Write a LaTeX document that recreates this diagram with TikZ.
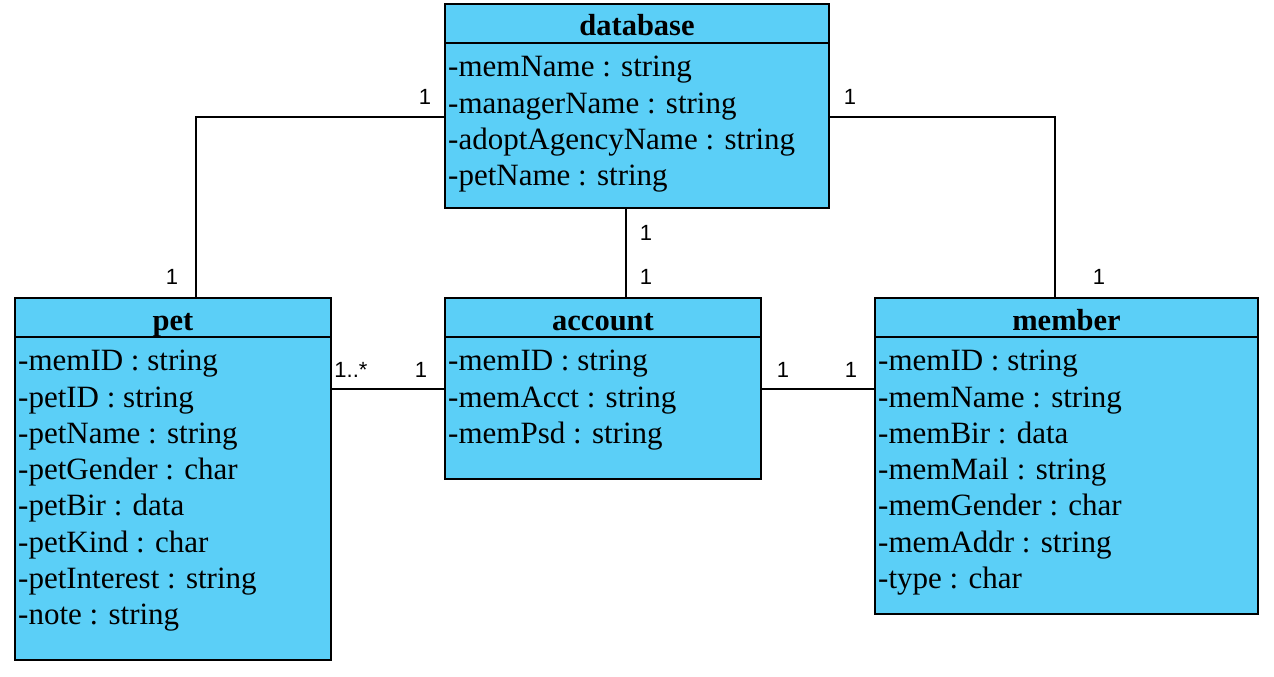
\documentclass[tikz,border=0pt]{standalone}
\usepackage{fontspec}
\setmainfont{Liberation Serif}
\newfontfamily\multfont{Liberation Sans}
\usetikzlibrary{positioning}
\definecolor{classcyan}{RGB}{91,207,247}
\tikzset{
  classbox/.style={draw, line width=2pt, fill=classcyan, inner sep=0pt},
  classhead/.style={draw, line width=2pt, fill=classcyan, inner sep=0pt,
    text height=28pt, text depth=3pt,
    font=\fontsize{30.5}{36}\selectfont\bfseries},
  attrs/.style={align=left, inner sep=0pt, anchor=north west,
    font=\fontsize{31}{36.3}\selectfont},
  mult/.style={font=\multfont\fontsize{22}{24}\selectfont, inner sep=0pt},
  assoc/.style={line width=2pt}
}
% one class: name, x, y, width, height, title
\newcommand\umlclass[6]{
  \node[classbox, anchor=north west, minimum width=#4pt, minimum height=#5pt]
    (#1) at (#2,#3) {};
  \node[classhead, anchor=north, minimum width=#4pt, minimum height=39pt]
    (#1-head) at (#1.north) {#6};
}
\begin{document}
\begin{tikzpicture}[x=1pt, y=-1pt]
\useasboundingbox (0,0) rectangle (1274,677);
\umlclass{database}{444}{3}{384}{204}{database}
\umlclass{pet}{14}{297}{316}{362}{pet}
\umlclass{account}{444}{297}{316}{181}{account}
\umlclass{member}{874}{297}{383}{316}{member}

\node[attrs] (database-attrs) at ([xshift=4pt,yshift=-12pt]database-head.south west)
  {-memName : string\\-managerName : string\\-adoptAgencyName : string\\-petName : string};
\node[attrs] (pet-attrs) at ([xshift=4pt,yshift=-12pt]pet-head.south west)
  {-memID : string\\-petID : string\\-petName : string\\-petGender : char\\
   -petBir : data\\-petKind : char\\-petInterest : string\\-note : string};
\node[attrs] (account-attrs) at ([xshift=4pt,yshift=-12pt]account-head.south west)
  {-memID : string\\-memAcct : string\\-memPsd : string};
\node[attrs] (member-attrs) at ([xshift=4pt,yshift=-12pt]member-head.south west)
  {-memID : string\\-memName : string\\-memBir : data\\-memMail : string\\
   -memGender : char\\-memAddr : string\\-type : char};

% associations
\draw[assoc] ([yshift=-11pt]database.west) -| ([xshift=23pt]pet.north);
\draw[assoc] ([yshift=-11pt]database.east) -| ([xshift=-12pt]member.north);
\draw[assoc] ([xshift=-11pt]database.south) -- ([xshift=-11pt]database.south |- account.north);
\draw[assoc] (pet.east |- account.west) -- (account.west);
\draw[assoc] (account.east) -- (member.west |- account.east);

% multiplicities
\node[mult] (m-db-pet) at (425,97) {1};
\node[mult] (m-pet-db) at (172,277) {1};
\node[mult] (m-db-mem) at (850,97) {1};
\node[mult] (m-mem-db) at (1099,277) {1};
\node[mult] (m-db-acc) at (646,233) {1};
\node[mult] (m-acc-db) at (646,277) {1};
\node[mult] (m-pet-acc) at (351,370) {1..*};
\node[mult] (m-acc-pet) at (421,370) {1};
\node[mult] (m-acc-mem) at (783,370) {1};
\node[mult] (m-mem-acc) at (851,370) {1};
\end{tikzpicture}
\end{document}
